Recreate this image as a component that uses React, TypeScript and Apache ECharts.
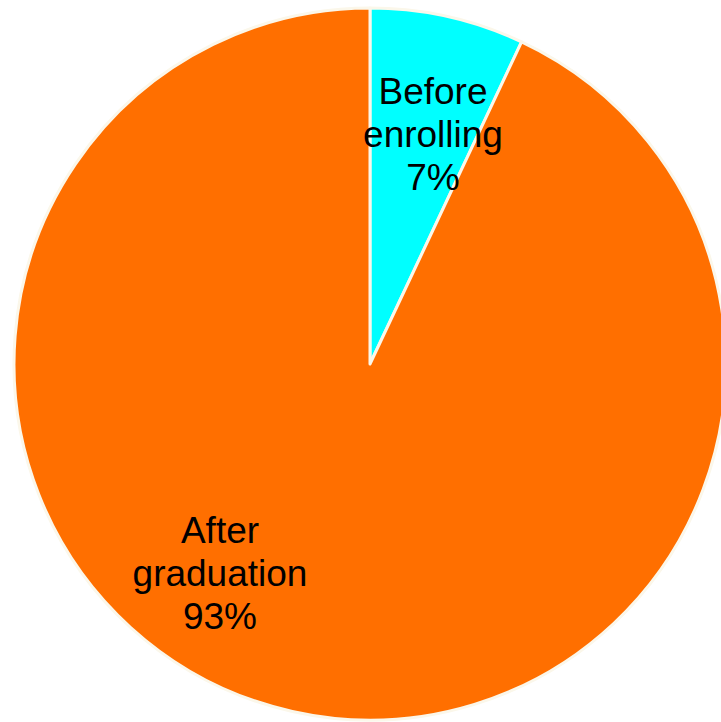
import React, { useEffect, useRef } from "react";
import * as echarts from "echarts";

const categories = ["Before enrolling", "After graduation"];
const labelLines = [["Before", "enrolling"], ["After", "graduation"]];
const values = [7, 93];
const colors = ["#00ffff", "#ff6f00"];
const labelPos = [
  [433, 134],
  [220, 573],
];

export default function App() {
  const ref = useRef<HTMLDivElement>(null);
  useEffect(() => {
    if (!ref.current) return;
    const chart = echarts.init(ref.current, null, { renderer: "svg" });
    chart.setOption({
      animation: false,
      backgroundColor: "#ffffff",
      series: [
        {
          type: "pie",
          center: [370, 364],
          radius: 356,
          startAngle: 90,
          clockwise: true,
          avoidLabelOverlap: false,
          data: categories.map((name, i) => ({
            name,
            value: values[i],
            itemStyle: { color: colors[i] },
          })),
          itemStyle: { borderColor: "#fbf7ea", borderWidth: 3 },
          label: {
            show: true,
            position: "inside",
            color: "#000000",
            fontFamily: "Arial, 'Liberation Sans', sans-serif",
            fontSize: 37,
            lineHeight: 43,
            align: "center",
            verticalAlign: "middle",
            formatter: (p: any) =>
              labelLines[p.dataIndex].join("\n") + "\n" + Math.round(p.percent) + "%",
          },
          labelLine: { show: false },
          labelLayout: (p: any) => ({
            x: labelPos[p.dataIndex][0],
            y: labelPos[p.dataIndex][1],
            align: "center",
            verticalAlign: "middle",
          }),
          emphasis: { disabled: true },
        },
      ],
    });
    return () => chart.dispose();
  }, []);
  return (
    <div
      ref={ref}
      style={{ position: "fixed", left: 0, top: 0, width: 721, height: 722 }}
    />
  );
}
